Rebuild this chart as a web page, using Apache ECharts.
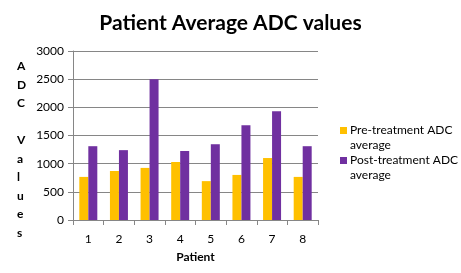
<!DOCTYPE html>
<html>
<head>
<meta charset="utf-8">
<script src="https://cdn.jsdelivr.net/npm/echarts@6/dist/echarts.min.js"></script>
<style>
  html, body { margin: 0; padding: 0; background: #fff; }
  #chart { width: 461px; height: 273px; }
</style>
</head>
<body>
<div id="chart"></div>
<script>
var patients = ["1", "2", "3", "4", "5", "6", "7", "8"];
var preTreatment = [765, 870, 925, 1030, 690, 800, 1100, 765];
var postTreatment = [1310, 1240, 2500, 1225, 1345, 1680, 1930, 1310];
var yTicks = { min: 0, max: 3000, interval: 500 };
var yTitle = "A\nD\nC\n\nV\na\nl\nu\ne\ns";

var font = "Lato, 'Open Sans', sans-serif";
var myChart = echarts.init(document.getElementById("chart"));
var option = {
  animation: false,
  textStyle: { fontFamily: font },
  title: {
    text: "Patient Average ADC values",
    left: "center",
    top: 8,
    textStyle: { fontSize: 21, fontWeight: "bold", color: "#000", fontFamily: font }
  },
  legend: {
    orient: "vertical",
    left: 340,
    top: 108,
    padding: 0,
    itemWidth: 7,
    itemHeight: 7,
    itemGap: -15,
    icon: "rect",
    data: ["Pre-treatment ADC\naverage", "Post-treatment ADC\naverage"],
    // leading blank line keeps the marker level with the first text line
    formatter: function (name) { return "\n" + name; },
    textStyle: { fontSize: 12, color: "#000", lineHeight: 15, padding: [0, 0, 0, -2] }
  },
  graphic: [
    {
      type: "text",
      left: 17,
      top: 57,
      style: {
        text: yTitle,
        font: "bold 12px " + font,
        lineHeight: 18.5,
        fill: "#000",
        align: "center"
      }
    }
  ],
  grid: { left: 73, right: 143, top: 51, bottom: 53 },
  xAxis: {
    type: "category",
    data: patients,
    name: "Patient",
    nameLocation: "middle",
    nameGap: 31,
    nameTextStyle: { fontSize: 12, fontWeight: "bold", color: "#000" },
    axisLine: { lineStyle: { color: "#868686" } },
    axisTick: { show: true, length: 5, lineStyle: { color: "#868686" } },
    axisLabel: { fontSize: 12, color: "#000", margin: 13 }
  },
  yAxis: {
    type: "value",
    min: yTicks.min,
    max: yTicks.max,
    interval: yTicks.interval,
    axisLine: { show: true, lineStyle: { color: "#868686" } },
    axisTick: { show: true, length: 5, inside: false, lineStyle: { color: "#868686" } },
    axisLabel: { fontSize: 12, color: "#000", margin: 9, formatter: function (v) { return String(v); } },
    splitLine: { lineStyle: { color: "#868686" } }
  },
  series: [
    {
      name: "Pre-treatment ADC\naverage",
      type: "bar",
      data: preTreatment,
      barWidth: 9,
      barGap: 0,
      itemStyle: { color: "#FFC000" }
    },
    {
      name: "Post-treatment ADC\naverage",
      type: "bar",
      data: postTreatment,
      barWidth: 9,
      barGap: 0,
      itemStyle: { color: "#7030A0" }
    }
  ]
};
myChart.setOption(option);
</script>
</body>
</html>
